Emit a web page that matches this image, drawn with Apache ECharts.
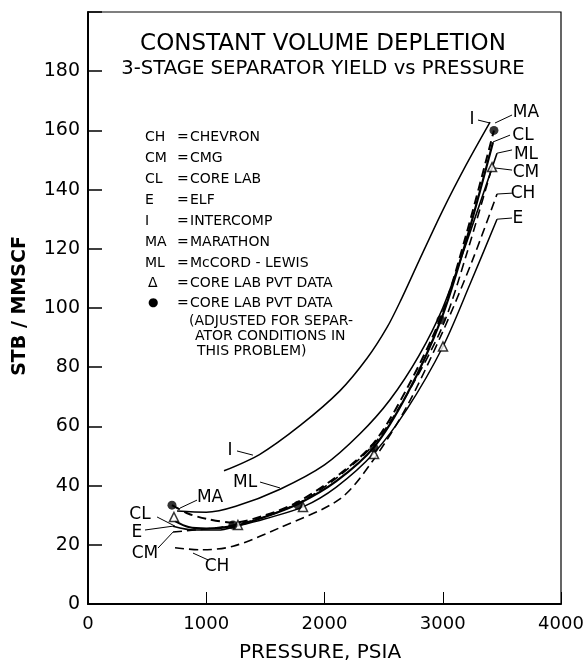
<!DOCTYPE html>
<html>
<head>
<meta charset="utf-8">
<script src="https://cdn.jsdelivr.net/npm/echarts@6/dist/echarts.min.js"></script>
<style>
html,body{margin:0;padding:0;background:#fff;}
#c{width:587px;height:665px;}
</style>
</head>
<body>
<div id="c"></div>
<script>
// ---- data (pressure psia, STB/MMSCF) ----
const curveI  = [[1150,45],[1450,50.5],[1800,60.5],[2130,72],[2360,83],[2530,93.5],[2650,103],[2800,116],[3000,133],[3200,148.5],[3400,162.8]];
const curveML = [[753,31.4],[1000,31.0],[1250,33],[1624,38.8],[2000,47],[2300,57.5],[2554,69],[2800,84],[3000,100],[3200,122],[3459,152.3]];
const curveCL = [[736,28],[850,26],[1000,25.5],[1250,26.5],[1500,29.5],[1776,33.8],[2100,41.5],[2419,53],[2700,71],[2985,96],[3200,123],[3425,156]];
const curveMA = [[710,33.4],[850,30.5],[1000,28.8],[1226,27.5],[1500,30],[1776,34.5],[2100,43],[2419,54.5],[2700,73],[2985,97],[3200,125],[3433,160]];
const curveCM = [[719,24.3],[900,25],[1100,25.8],[1300,27.3],[1500,29.5],[1800,34.5],[2100,42.5],[2419,54],[2700,71],[3000,94],[3200,118],[3417,147.6]];
const curveCH = [[736,19],[950,18.3],[1226,19.5],[1624,25.8],[2131,35.5],[2410,48.5],[2700,67],[3000,92],[3250,116],[3459,138.5]];
const curveE  = [[719,26.3],[900,25],[1100,25],[1268,26.4],[1500,28.8],[1818,32.8],[2100,39.5],[2419,51],[2700,66],[3002,87],[3230,108],[3459,130]];
const pvtTriangles = [[727,29.4],[1268,26.7],[1818,32.8],[2419,50.7],[3002,87],[3417,147.6]];
const pvtDots      = [[710,33.4],[1226,26.7],[1776,33.4],[2419,52.7],[2985,96],[3433,160]];

const xTicks = [0,1000,2000,3000,4000];
const yTicks = [0,20,40,60,80,100,120,140,160,180];

// curve annotations: label text, text centre, leader start, leader end (data units)
const labelTexts  = ['I','MA','CL','ML','CM','CH','E','I','ML','MA','CL','E','CM','CH'];
const labelCentre = [[3247,163.5],[3704,165.9],[3679,158.4],[3704,152.0],[3704,145.6],[3679,138.8],[3636,130.1],
                     [1201,52.0],[1328,40.9],[1032,36.1],[440,30.1],[414,24.0],[482,17.2],[1091,12.5]];
const leaderFrom  = [[3298,163.5],[3586,165.2],[3569,158.4],[3586,153.4],[3586,146.6],[3586,138.8],[3586,130.4],
                     [1260,51.7],[1455,41.2],[922,35.1],[584,29.4],[482,25.0],[592,18.9],[1015,14.9]];
const leaderTo    = [[3400,162.5],[3442,162.5],[3425,156.1],[3459,152.3],[3442,147.3],[3459,138.5],[3459,130.0],
                     [1395,50.3],[1624,39.2],[778,32.4],[736,26.3],[719,26.3],[719,24.3],[888,17.2]];

const legendAbbr = ['CH','CM','CL','E','I','MA','ML','\u0394','\u25CF'];
const legendName = ['CHEVRON','CMG','CORE LAB','ELF','INTERCOMP','MARATHON','McCORD - LEWIS','CORE LAB PVT DATA','CORE LAB PVT DATA'];
const legendNote = ['(ADJUSTED FOR SEPAR-','ATOR CONDITIONS IN','THIS PROBLEM)'];

const FONT = 'DejaVu Sans';
const chart = echarts.init(document.getElementById('c'), null, {renderer:'canvas'});

function lineSeries(name, data, width, dashed){
  return {
    name, type:'line', data, smooth:0.3, symbol:'none', silent:true, z:3,
    lineStyle:{color:'#000', width:width, type: dashed ? [9,5] : 'solid'}
  };
}

const annData = labelTexts.map((t,i)=>[labelCentre[i][0],labelCentre[i][1],leaderFrom[i][0],leaderFrom[i][1],leaderTo[i][0],leaderTo[i][1]]);

const graphics = [];
graphics.push({type:'text', x:323, y:44, style:{text:'CONSTANT VOLUME DEPLETION', font:'23px '+FONT, fill:'#000', textAlign:'center', textVerticalAlign:'middle'}});
graphics.push({type:'text', x:323, y:69, style:{text:'3-STAGE SEPARATOR YIELD vs PRESSURE', font:'19.6px '+FONT, fill:'#000', textAlign:'center', textVerticalAlign:'middle'}});
const legY0 = 137, legDy = 21;
legendAbbr.forEach((a,i)=>{
  const y = legY0 + i*legDy - (i===8 ? 2 : 0) - (i===7 ? 1 : 0);
  graphics.push({type:'text', x:(i>=7?148:145), y:y, style:{text:a, font:(i===8?'12px ':'14px ')+FONT, fill:'#000', textAlign:'left', textVerticalAlign:'middle'}});
  graphics.push({type:'text', x:177, y:y, style:{text:'=', font:'14px '+FONT, fill:'#000', textAlign:'left', textVerticalAlign:'middle'}});
  graphics.push({type:'text', x:190, y:y, style:{text:legendName[i], font:'14px '+FONT, fill:'#000', textAlign:'left', textVerticalAlign:'middle'}});
});
graphics.push({type:'text', x:189, y:321, style:{text:legendNote[0], font:'14px '+FONT, fill:'#000', textVerticalAlign:'middle'}});
graphics.push({type:'text', x:195, y:336, style:{text:legendNote[1], font:'14px '+FONT, fill:'#000', textVerticalAlign:'middle'}});
graphics.push({type:'text', x:197, y:351, style:{text:legendNote[2], font:'14px '+FONT, fill:'#000', textVerticalAlign:'middle'}});
graphics.push({type:'text', x:20, y:306, rotation:Math.PI/2, style:{text:'STB / MMSCF', font:'bold 19px '+FONT, fill:'#000', textAlign:'center', textVerticalAlign:'middle'}});
graphics.push({type:'text', x:320, y:653, style:{text:'PRESSURE, PSIA', font:'20px '+FONT, fill:'#000', textAlign:'center', textVerticalAlign:'middle'}});

chart.setOption({
  animation:false,
  backgroundColor:'#fff',
  grid:{left:88, right:26, top:12, bottom:61, show:true, borderColor:'#000', borderWidth:1.2, backgroundColor:'transparent'},
  xAxis:{
    type:'value', min:xTicks[0], max:xTicks[xTicks.length-1], interval:1000,
    axisLine:{show:true, lineStyle:{color:'#000', width:2}},
    axisTick:{show:true, inside:true, length:12, lineStyle:{color:'#000', width:1}},
    splitLine:{show:false},
    axisLabel:{color:'#000', fontSize:18, fontFamily:FONT, margin:11,
      formatter:v=> xTicks.indexOf(v)>=0 ? String(v) : ''}
  },
  yAxis:{
    type:'value', min:0, max:200, interval:20,
    axisLine:{show:true, lineStyle:{color:'#000', width:2}},
    axisTick:{show:true, inside:true, length:14, lineStyle:{color:'#000', width:1.5}},
    splitLine:{show:false},
    axisLabel:{color:'#000', fontSize:19, fontFamily:FONT, margin:8,
      formatter:v=> yTicks.indexOf(v)>=0 ? String(v) : ''}
  },
  graphic: graphics,
  series:[
    lineSeries('I', curveI, 1.5, false),
    lineSeries('ML', curveML, 1.6, false),
    lineSeries('CL', curveCL, 2.2, false),
    lineSeries('MA', curveMA, 2, true),
    lineSeries('CM', curveCM, 1.6, true),
    lineSeries('CH', curveCH, 1.6, true),
    lineSeries('E', curveE, 1.5, false),
    {type:'scatter', data:pvtTriangles, symbol:'triangle', symbolSize:9, z:5,
      itemStyle:{color:'#fff', borderColor:'#000', borderWidth:1.5}},
    {type:'scatter', data:pvtDots, symbol:'circle', symbolSize:9, z:6,
      itemStyle:{color:'#000'}},
    {type:'custom', z:7, silent:true, data:annData,
      renderItem:function(params, api){
        const c = api.coord([api.value(0), api.value(1)]);
        const a = api.coord([api.value(2), api.value(3)]);
        const b = api.coord([api.value(4), api.value(5)]);
        return {type:'group', children:[
          {type:'line', shape:{x1:a[0], y1:a[1], x2:b[0], y2:b[1]}, style:{stroke:'#000', lineWidth:1}},
          {type:'text', x:c[0], y:c[1], style:{text:labelTexts[params.dataIndex], font:'17px '+FONT, fill:'#000', textAlign:'center', textVerticalAlign:'middle'}}
        ]};
      }
    }
  ]
});
</script>
</body>
</html>
